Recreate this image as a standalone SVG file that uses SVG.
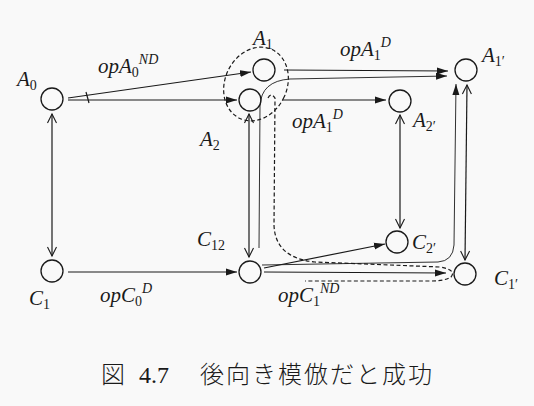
<svg xmlns="http://www.w3.org/2000/svg" width="534" height="406" viewBox="0 0 534 406">
<style>
.bg{fill:#f9f9f9}
.nd{fill:none;stroke:#1a1a1a;stroke-width:1.3}
.ln{fill:none;stroke:#1a1a1a;stroke-width:1.2}
.th{fill:none;stroke:#1a1a1a;stroke-width:0.9}
.ds{fill:none;stroke:#1a1a1a;stroke-width:1.2;stroke-dasharray:4 2.5}
.fa{marker-end:url(#fa)}
.oa{marker-start:url(#oa);marker-end:url(#oa)}
.t{fill:#1a1a1a}
.lb{font-size:21px;font-style:italic}
.sb{font-size:14px;font-style:normal}
.sp{font-size:14px;font-style:italic}
.cap{font-size:24px;font-weight:300}
.num{font-size:24px}
</style>
<defs>
<marker id="fa" markerUnits="userSpaceOnUse" markerWidth="12" markerHeight="8" refX="11" refY="4" orient="auto"><path d="M0,0.5 L11,4 L0,7.5 z" fill="#1a1a1a"/></marker>
<marker id="oa" markerUnits="userSpaceOnUse" markerWidth="12" markerHeight="12" refX="10" refY="6" orient="auto-start-reverse"><path d="M1,1.5 L10,6 L1,10.5" fill="none" stroke="#1a1a1a" stroke-width="1.1"/></marker>
</defs>
<rect class="bg" x="0" y="0" width="534" height="406"/>

<g id="connectors">
<path class="ln fa" d="M68 98 L251 72"/>
<path class="ln" d="M86 92 L89 103"/>
<path class="ln fa" d="M68 100 L237 100"/>
<path class="ln oa" d="M52 114 L52 256"/>
<path class="ln fa" d="M68 272 L237 272"/>
<path class="ln oa" d="M249 114 L249 257"/>
<path class="th fa" d="M259 248 L260 106 Q261 81 290 79 L447 76"/>
<path class="ln fa" d="M284 70 L448 71"/>
<path class="ln fa" d="M283 100 L386 100"/>
<path class="ln oa" d="M400 115 L400 228"/>
<path class="ln oa" d="M467 85 L465 260"/>
<path class="th fa" d="M262 265 L438 262 Q453 261 454 245 L456 84"/>
<path class="ln fa" d="M264 268 L385 244"/>
<path class="ln fa" d="M264 272 L446 273"/>
<path class="ds" d="M268 98 Q271 92 275 98 L274 225 Q275 258 315 262 L440 267 Q457 270 451 277 Q445 281 430 281 L305 281"/>
<ellipse class="ds" cx="256" cy="84" rx="31" ry="38" transform="rotate(25 256 84)"/>
</g>

<g font-family="Liberation Serif, Times New Roman, Tinos, Noto Serif, DejaVu Serif, serif">
<g id="A0"><circle class="nd" cx="52" cy="99" r="11"/><text class="t lb" x="17" y="86">A<tspan class="sb" dy="4">0</tspan></text></g>
<g id="A1"><circle class="nd" cx="264" cy="70" r="11"/><text class="t lb" x="253" y="45">A<tspan class="sb" dy="4">1</tspan></text></g>
<g id="A2"><circle class="nd" cx="250" cy="100" r="11"/><text class="t lb" x="200" y="146">A<tspan class="sb" dy="4">2</tspan></text></g>
<g id="A2p"><circle class="nd" cx="400" cy="101" r="11"/><text class="t lb" x="413" y="127">A<tspan class="sb" dy="4">2′</tspan></text></g>
<g id="A1p"><circle class="nd" cx="466" cy="70" r="11"/><text class="t lb" x="482" y="62">A<tspan class="sb" dy="4">1′</tspan></text></g>
<g id="C1"><circle class="nd" cx="52" cy="271" r="11"/><text class="t lb" x="29" y="305">C<tspan class="sb" dy="4">1</tspan></text></g>
<g id="C12"><circle class="nd" cx="250" cy="272" r="11"/><text class="t lb" x="197" y="246">C<tspan class="sb" dy="4">12</tspan></text></g>
<g id="C2p"><circle class="nd" cx="397" cy="242" r="11"/><text class="t lb" x="412" y="249">C<tspan class="sb" dy="4">2′</tspan></text></g>
<g id="C1p"><circle class="nd" cx="465" cy="274" r="11"/><text class="t lb" x="494" y="285">C<tspan class="sb" dy="4">1′</tspan></text></g>

<g id="labels">
<text class="t lb" x="98" y="73">opA<tspan class="sb" dy="4">0</tspan><tspan class="sp" dy="-13">ND</tspan></text>
<text class="t lb" x="340" y="56">opA<tspan class="sb" dy="4">1</tspan><tspan class="sp" dy="-13">D</tspan></text>
<text class="t lb" x="292" y="128">opA<tspan class="sb" dy="4">1</tspan><tspan class="sp" dy="-13">D</tspan></text>
<text class="t lb" x="100" y="302">opC<tspan class="sb" dy="4">0</tspan><tspan class="sp" dy="-13">D</tspan></text>
<text class="t lb" x="278" y="302">opC<tspan class="sb" dy="4">1</tspan><tspan class="sp" dy="-13">ND</tspan></text>
</g>

<g id="caption">
<text class="t cap" x="101" y="383" font-family="Noto Sans CJK JP, sans-serif">図</text>
<text class="t num" x="139" y="383">4.7</text>
<text class="t cap" x="200" y="383" letter-spacing="2" font-family="Noto Sans CJK JP, sans-serif">後向き模倣だと成功</text>
</g>
</g>
</svg>
